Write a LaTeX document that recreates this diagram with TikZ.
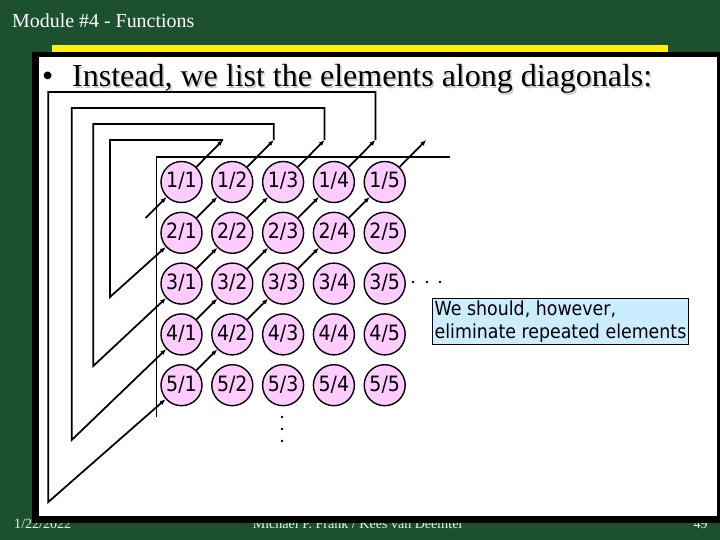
\documentclass[tikz,border=0pt]{standalone}
\usepackage{fontspec}
\setmainfont{Liberation Serif}
\newfontfamily\tahoma[FakeStretch=0.9]{DejaVu Sans}
\usepackage{xcolor}
\definecolor{colGreen}{RGB}{28,80,46}
\definecolor{colElem}{RGB}{255,204,255}
\definecolor{colNote}{RGB}{204,236,255}
\colorlet{colShadow}{black!22}
\colorlet{colFoot}{white!85!green}
\usetikzlibrary{arrows.meta, calc}

\begin{document}
\begin{tikzpicture}[x=0.03cm, y=-0.03cm, >={Latex[length=5pt,width=4pt]},
  elem/.style={circle, draw, line width=1.2pt, fill=colElem, minimum size=1.23cm, inner sep=0pt,
    text height=13pt, text depth=3pt, font=\tahoma\fontsize{18}{20}\selectfont},
  link/.style={->, line width=1.5pt},
  frame/.style={line width=1.5pt},
  footer/.style={text=colFoot, font=\fontsize{12}{14}\selectfont, inner sep=0pt},
  heading/.style={font=\fontsize{27.3}{30}\selectfont, inner sep=0pt}]
  \useasboundingbox (0,0) rectangle (720,540);
  \fill[colGreen] (0,0) rectangle (720,540);
  \node[anchor=base west, text=white, inner sep=0pt, font=\fontsize{17}{20}\selectfont] (module) at (12,28) {Module \#4 - Functions};
  \node[footer, anchor=base west] (date) at (14,528) {1/22/2022};
  \node[footer, anchor=base] (authors) at (358,528) {Michael P. Frank / Kees van Deemter};
  \node[footer, anchor=base east] (page) at (708,528) {49};
  \fill[yellow] (51.7,45) rectangle (668,51.7);
  \fill[black] (32,52) rectangle (721,523);
  \fill[white] (38.5,57) rectangle (716.5,516);
  \node[heading, anchor=base west] (bullet) at (42,87) {\textbullet};
  \node[heading, anchor=base west, text=colShadow] (titleshadow) at (73.5,88.5) {Instead, we list the elements along diagonals:};
  \node[heading, anchor=base west] (title) at (72,87) {Instead, we list the elements along diagonals:};
  \draw[frame] (156.5,417) |- (450,157);
  \foreach \row in {1,...,5}
    \foreach \col in {1,...,5}
      \node[elem] (c\row\col) at ({181.5+50.8*(\col-1)},{182+50.8*(\row-1)}) {\row/\col};
  \foreach \k in {1,...,5}
    \coordinate (t\k) at ($(c1\k)+(41.5,-42)$);
  \coordinate (s1) at (145.7,218);
  \draw[link] (s1) -- (c11);
  \foreach \k/\m/\lx/\by in {2/1/110/297, 3/2/93.3/366, 4/3/71.7/440, 5/4/48.3/502}{
    \pgfmathsetmacro\ty{140-16*(\k-2)}
    \draw[link] (t\m) |- (\lx,\ty) -- (\lx,\by) -- (c\k1);
  }
  \foreach \i/\j/\ii/\jj in {2/1/1/2, 3/1/2/2, 2/2/1/3, 4/1/3/2, 3/2/2/3, 2/3/1/4,
      5/1/4/2, 4/2/3/3, 3/3/2/4, 2/4/1/5}
    \draw[link] (c\i\j) -- (c\ii\jj);
  \foreach \k in {1,...,5}
    \draw[link] (c1\k) -- (t\k);
  \foreach \x in {413,427,440}
    \fill (\x,282) circle (1.2pt);
  \foreach \y in {417,429,441}
    \fill (282,\y) circle (1.2pt);
  \node[draw, line width=0.6pt, fill=colNote, anchor=north west, align=left, inner sep=2pt,
    font=\tahoma\fontsize{16.5}{19.5}\selectfont] (note) at (432,298)
    {We should, however,\\eliminate repeated elements};
\end{tikzpicture}
\end{document}
